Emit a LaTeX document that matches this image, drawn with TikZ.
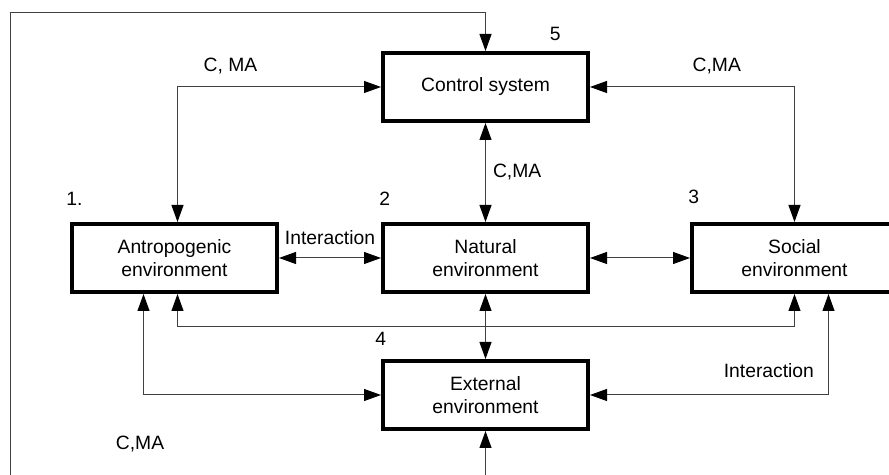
\documentclass[tikz,border=0pt]{standalone}
\usepackage{fontspec}
\setmainfont{Liberation Sans}
\usetikzlibrary{positioning, arrows.meta}

\begin{document}
\begin{tikzpicture}[
    x=0.5pt, y=-0.5pt,
    node distance=50pt and 50pt,
    every node/.style={font=\fontsize{9.65}{11.6}\selectfont},
    block/.style={draw, line width=2pt, minimum width=102.5pt, minimum height=34pt, inner sep=0pt, align=center},
    link/.style={{Triangle[length=8.5pt, width=6pt, color=black]}-{Triangle[length=8.5pt, width=6pt, color=black]}, line width=0.5pt, draw=black!75},
    lbl/.style={inner sep=1pt},
    num/.style={anchor=base west, inner sep=0pt}
]
\useasboundingbox (0,0) rectangle (889,475);

% Main blocks
\node[block] (ctrl) at (485.5,87) {Control system};
\node[block, below=49.5pt of ctrl] (nat) {Natural\\environment};
\node[block, left=51pt of nat] (antro) {Antropogenic\\environment};
\node[block, right=50pt of nat] (soc) {Social\\environment};
\node[block, below=32.5pt of nat] (ext) {External\\environment};

% Block numbers
\node[num] (n1) at ([shift={(-2pt,8pt)}]antro.north west) {1.};
\node[num] (n2) at ([shift={(-1pt,8pt)}]nat.north west) {2};
\node[num] (n3) at ([shift={(-1pt,9pt)}]soc.north west) {3};
\node[num] (n4) at ([shift={(-3pt,6.5pt)}]ext.north west) {4};
\node[num] (n5) at ([shift={(32pt,5pt)}]ctrl.north) {5};

% Control links
\draw[link] (ctrl.west) -| node[lbl, pos=0.37, yshift=10.5pt] (cma1) {C, MA} ([xshift=1.5pt]antro.north);
\draw[link] (ctrl.east) -| node[lbl, pos=0.31, yshift=10.5pt] (cma2) {C,MA} (soc.north);
\draw[link] (ctrl) -- node[lbl, right=2.5pt] (cma3) {C,MA} (nat);

% Interactions
\draw[link] (antro) -- node[lbl, yshift=10pt] (int1) {Interaction} (nat);
\draw[link] (nat) -- (soc);
\draw[link] (nat) -- (ext);
\draw[link] ([xshift=1.5pt]antro.south) -- ++(0pt,-16.5pt) -| (soc.south);
\draw[link] ([xshift=-15.5pt]antro.south) |- (ext.west);
\draw[link] (ext.east) -| node[lbl, pos=0.375, yshift=12pt] (int2) {Interaction} ([xshift=17pt]soc.south);

% Outer loop
\draw[link] (ext.south) -- (485.5,490) -| (10,13) -| (ctrl.north);
\node[lbl] (cma4) at (140,444) {C,MA};

\end{tikzpicture}
\end{document}
